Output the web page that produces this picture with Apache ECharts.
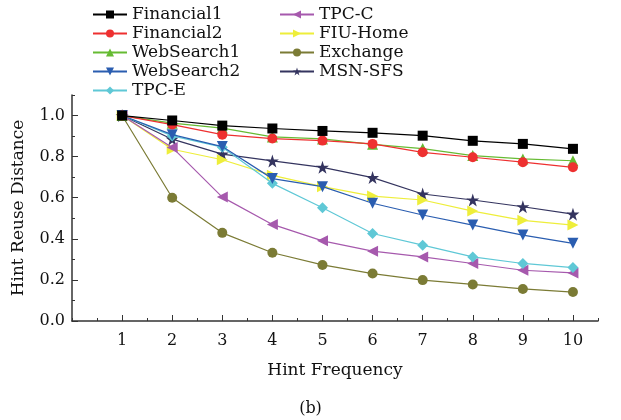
<!DOCTYPE html>
<html><head><meta charset="utf-8">
<script src="https://cdn.jsdelivr.net/npm/echarts@6/dist/echarts.min.js"></script>
<style>html,body{margin:0;padding:0;background:#fff}#c{width:621px;height:420px}</style>
</head><body><div id="c"></div>
<script>
var xValues = [1,2,3,4,5,6,7,8,9,10];
var seriesNames = ['Financial1','Financial2','WebSearch1','WebSearch2','TPC-E','TPC-C','FIU-Home','Exchange','MSN-SFS'];
var financial1 = [1.0,0.976,0.951,0.937,0.925,0.916,0.902,0.877,0.862,0.838];
var financial2 = [1.0,0.956,0.907,0.888,0.878,0.862,0.821,0.797,0.773,0.748];
var webSearch1 = [1.0,0.963,0.939,0.896,0.886,0.860,0.839,0.805,0.789,0.780];
var webSearch2 = [1.0,0.907,0.849,0.693,0.654,0.573,0.516,0.467,0.418,0.378];
var tpcE = [1.0,0.901,0.846,0.670,0.551,0.426,0.369,0.312,0.280,0.260];
var tpcC = [1.0,0.845,0.603,0.470,0.390,0.340,0.312,0.280,0.247,0.234];
var fiuHome = [1.0,0.836,0.785,0.709,0.654,0.608,0.589,0.535,0.490,0.467];
var exchange = [1.0,0.600,0.429,0.332,0.273,0.231,0.199,0.178,0.156,0.141];
var msnSfs = [1.0,0.885,0.812,0.779,0.748,0.698,0.618,0.589,0.556,0.520];
var xTickLabels = [1,2,3,4,5,6,7,8,9,10];
var yTickLabels = [0,0.2,0.4,0.6,0.8,1.0];

var allData = [financial1,financial2,webSearch1,webSearch2,tpcE,tpcC,fiuHome,exchange,msnSfs];
var colors = ['#000000','#ee3030','#66bb33','#2a5db0','#5fc8d6','#a659ad','#eeee3a','#7b7b35','#34345f'];
var STAR = 'path://M50,0 L61.8,36.2 L100,36.2 L69.1,58.8 L80.9,95.1 L50,72.6 L19.1,95.1 L30.9,58.8 L0,36.2 L38.2,36.2 Z';
var symbols = ['rect','circle','triangle','triangle','diamond','triangle','triangle','circle',STAR];
var rotates = [0,0,0,180,0,90,-90,0,0];
var sizes = [10,10,11,11,11,11,11,10,13];
var FONT = 'DejaVu Serif';

var series = seriesNames.map(function(n,i){
  return {
    name:n, type:'line', xAxisIndex:0, yAxisIndex:0,
    data: xValues.map(function(x,j){return [x, allData[i][j]];}),
    symbol: symbols[i], symbolRotate: rotates[i], symbolSize: sizes[i],
    lineStyle:{color:colors[i], width:1.2},
    itemStyle:{color:colors[i]},
    emphasis:{disabled:true},
    animation:false, z: 10 - i
  };
});

var chart = echarts.init(document.getElementById('c'), null, {renderer:'canvas'});
var legendText = {fontFamily:FONT, fontSize:17, color:'#111'};
chart.setOption({
  animation:false,
  grid:{left:72, right:23, top:95, bottom:99, containLabel:false},
  legend:[
    {data:seriesNames.slice(0,5), orient:'vertical', left:92, top:6, padding:0, itemWidth:34, itemHeight:10, itemGap:2, textStyle:legendText, selectedMode:false},
    {data:seriesNames.slice(5), orient:'vertical', left:279, top:6, padding:0, itemWidth:34, itemHeight:10, itemGap:2, textStyle:legendText, selectedMode:false}
  ],
  xAxis:[
    {type:'value', min:0, max:10.5, interval:0.5, position:'bottom',
     axisLine:{lineStyle:{color:'#333', width:1.5}},
     axisTick:{inside:true, length:3, lineStyle:{color:'#333', width:1}},
     axisLabel:{show:false}, splitLine:{show:false},
     name:'Hint Frequency', nameLocation:'middle', nameGap:41,
     nameTextStyle:{fontFamily:FONT, fontSize:17, color:'#111'}},
    {type:'value', min:0, max:10.5, position:'bottom',
     axisLine:{show:false},
     axisTick:{inside:true, length:6, customValues:xTickLabels, lineStyle:{color:'#333', width:1}},
     axisLabel:{customValues:xTickLabels, fontFamily:FONT, fontSize:16, color:'#111', margin:12},
     splitLine:{show:false}}
  ],
  yAxis:[
    {type:'value', min:0, max:1.1, interval:0.1, position:'left',
     axisLine:{show:true, lineStyle:{color:'#333', width:1.5}},
     axisTick:{inside:true, length:3, lineStyle:{color:'#333', width:1}},
     axisLabel:{show:false}, splitLine:{show:false},
     name:'Hint Reuse Distance', nameLocation:'middle', nameGap:45, nameRotate:90,
     nameTextStyle:{fontFamily:FONT, fontSize:17, color:'#111'}},
    {type:'value', min:0, max:1.1, position:'left',
     axisLine:{show:false},
     axisTick:{inside:true, length:6, customValues:yTickLabels, lineStyle:{color:'#333', width:1}},
     axisLabel:{customValues:yTickLabels, fontFamily:FONT, fontSize:16, color:'#111', margin:7,
       formatter:function(v){return v.toFixed(1);}},
     splitLine:{show:false}}
  ],
  graphic:[{type:'text', left:'center', top:401, style:{text:'(b)', font:'16px "DejaVu Serif"', fill:'#111'}}],
  series: series
});
</script></body></html>
